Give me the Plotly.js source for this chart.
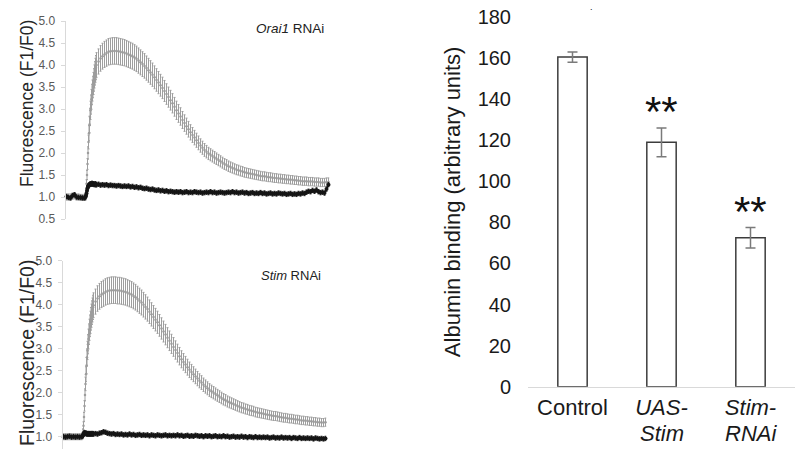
<!DOCTYPE html>
<html>
<head>
<meta charset="utf-8">
<script src="https://cdn.plot.ly/plotly-3.0.1.min.js"></script>
<style>html,body{margin:0;padding:0;background:#fff;}#chart{width:807px;height:449px;}</style>
</head>
<body>
<div id="chart"></div>
<script>
// time (frame index) shared by both calcium-imaging traces
const time = [0,2,4,6,8,10,12,14,16,18,
19,19.5,20,20.5,21,21.5,22,22.5,23,23.5,24,24.5,25,25.5,26,26.5,27,27.5,28,28.5,29,29.5,30,
32,34,36,38,40,42,44,46,48,50,
52,54,56,58,60,62,64,66,68,70,
72,74,76,78,80,82,84,86,88,90,
92,94,96,98,100,102,104,106,108,110,
112,114,116,118,120,122,124,126,128,130,
132,134,136,138,140,142,144,146,148,150,
152,154,156,158,160,162,164,166,168,170,
172,174,176,178,180,182,184,186,188,190,
192,194,196,198,200,202,204,206,208,210,
212,214,216,218,220,222,224,226,228,230,
232,234,236,238,240,242,244,246,248,250,
252,254,256,258,260,262];

// Orai1 RNAi panel: control (grey) and RNAi (black)
const orai1Control = [1.0,1.0,1.0,1.02,1.03,1.0,1.0,0.99,0.99,0.99,
1.0,1.1,1.3,1.5,1.75,2.0,2.25,2.45,2.65,2.82,2.97,3.1,3.22,3.33,3.42,3.5,3.58,3.66,3.74,3.81,3.88,3.94,4.0,
4.08,4.15,4.2,4.24,4.27,4.3,4.31,4.32,4.32,4.32,
4.31,4.3,4.29,4.28,4.26,4.24,4.22,4.2,4.17,4.14,
4.1,4.06,4.02,3.98,3.93,3.88,3.83,3.78,3.72,3.66,
3.6,3.54,3.48,3.41,3.34,3.27,3.2,3.13,3.05,2.97,
2.9,2.83,2.75,2.68,2.61,2.54,2.47,2.41,2.35,2.29,
2.23,2.17,2.12,2.07,2.03,1.99,1.96,1.93,1.9,1.87,
1.84,1.81,1.78,1.75,1.73,1.7,1.68,1.66,1.64,1.62,
1.61,1.59,1.58,1.56,1.55,1.54,1.53,1.52,1.51,1.5,
1.49,1.48,1.47,1.47,1.46,1.45,1.45,1.44,1.43,1.43,
1.42,1.42,1.41,1.41,1.4,1.4,1.39,1.39,1.38,1.38,
1.37,1.37,1.36,1.36,1.36,1.35,1.35,1.35,1.34,1.34,
1.34,1.33,1.33,1.33,1.34,1.34];

const orai1RNAi = [1.01,0.99,0.98,1.03,1.05,1.0,0.99,0.99,0.98,0.98,
1.0,1.03,1.08,1.14,1.2,1.24,1.26,1.27,1.28,1.29,1.3,1.29,1.3,1.31,1.3,1.29,1.3,1.29,1.28,1.29,1.3,1.28,1.28,
1.29,1.27,1.28,1.27,1.28,1.26,1.27,1.26,1.26,1.25,
1.26,1.25,1.24,1.25,1.24,1.25,1.23,1.24,1.22,1.23,
1.21,1.22,1.2,1.19,1.2,1.18,1.17,1.18,1.16,1.15,
1.16,1.14,1.15,1.13,1.14,1.12,1.13,1.12,1.11,1.12,
1.11,1.12,1.1,1.11,1.12,1.1,1.11,1.1,1.12,1.11,
1.1,1.11,1.09,1.1,1.11,1.1,1.12,1.1,1.11,1.09,
1.1,1.11,1.1,1.09,1.1,1.11,1.1,1.12,1.1,1.11,
1.09,1.1,1.11,1.09,1.1,1.08,1.09,1.1,1.08,1.09,
1.08,1.1,1.08,1.09,1.07,1.08,1.09,1.07,1.08,1.07,
1.09,1.08,1.07,1.08,1.06,1.07,1.08,1.06,1.07,1.06,
1.08,1.07,1.09,1.08,1.11,1.13,1.12,1.15,1.13,1.16,
1.12,1.1,1.11,1.09,1.18,1.28];

// Stim RNAi panel: control (grey) and RNAi (black)
const stimControl = [1.0,1.0,1.0,1.0,1.0,1.0,1.0,1.0,1.0,1.0,
1.02,1.1,1.25,1.45,1.7,1.95,2.2,2.42,2.62,2.8,2.96,3.1,3.22,3.33,3.43,3.52,3.6,3.68,3.75,3.82,3.88,3.94,3.99,
4.07,4.14,4.19,4.23,4.26,4.29,4.31,4.32,4.33,4.33,
4.33,4.32,4.32,4.31,4.3,4.29,4.27,4.25,4.23,4.2,
4.17,4.13,4.09,4.05,4.0,3.95,3.9,3.84,3.78,3.72,
3.66,3.6,3.53,3.46,3.39,3.32,3.25,3.18,3.11,3.04,
2.97,2.9,2.83,2.76,2.7,2.64,2.58,2.52,2.47,2.42,
2.37,2.32,2.27,2.23,2.18,2.14,2.1,2.06,2.03,2.0,
1.97,1.94,1.91,1.88,1.85,1.83,1.8,1.78,1.76,1.74,
1.72,1.7,1.68,1.66,1.65,1.63,1.62,1.6,1.59,1.58,
1.56,1.55,1.54,1.53,1.52,1.51,1.5,1.49,1.48,1.47,
1.47,1.46,1.45,1.44,1.43,1.43,1.42,1.41,1.41,1.4,
1.39,1.39,1.38,1.37,1.37,1.36,1.36,1.35,1.35,1.34,
1.34,1.33,1.33,1.32,1.32,1.33];

const stimRNAi = [1.0,0.99,1.0,1.01,0.99,1.0,0.99,1.0,0.99,1.0,
1.01,1.03,1.06,1.08,1.09,1.08,1.07,1.08,1.07,1.06,1.07,1.06,1.07,1.06,1.07,1.06,1.06,1.07,1.06,1.07,1.06,1.07,1.06,
1.07,1.06,1.08,1.09,1.11,1.1,1.08,1.07,1.06,1.07,
1.05,1.06,1.05,1.06,1.04,1.05,1.04,1.06,1.04,1.05,
1.03,1.04,1.05,1.03,1.04,1.03,1.04,1.02,1.04,1.03,
1.02,1.04,1.03,1.02,1.03,1.04,1.02,1.03,1.02,1.03,
1.02,1.04,1.02,1.03,1.01,1.02,1.03,1.01,1.02,1.01,
1.03,1.02,1.01,1.02,1.0,1.02,1.01,1.02,1.0,1.01,
1.02,1.0,1.01,1.0,1.02,1.0,1.01,0.99,1.0,1.01,
0.99,1.0,0.99,1.01,0.99,1.0,0.98,1.0,0.99,0.98,
1.0,0.98,0.99,0.98,0.99,0.98,0.99,0.97,0.98,0.99,
0.97,0.98,0.97,0.99,0.97,0.98,0.97,0.98,0.96,0.98,
0.97,0.96,0.98,0.96,0.97,0.96,0.97,0.96,0.97,0.95,
0.97,0.96,0.95,0.96,0.95,0.96];

const fluoTicks = [0.5,1.0,1.5,2.0,2.5,3.0,3.5,4.0,4.5,5.0];

// Albumin binding bar chart
const barCategories = ['Control','UAS-Stim','Stim-RNAi'];
const barTickText = ['Control','<i>UAS-</i>','<i>Stim-</i>'];
const barTickText2 = ['','<i>Stim</i>','<i>RNAi</i>'];
const barValues = [160.5, 119, 72.5];
const barErrors = [2.5, 7, 5];
const barMarks = ['', '**', '**'];
const barTicks = [0,20,40,60,80,100,120,140,160,180];

const greyStyle = {
  mode: 'markers', cliponaxis: false,
  marker: {size: 2.5, color: '#9c9c9c'},
  error_y: {type: 'percent', value: 7, color: '#9e9e9e', thickness: 1, width: 1}
};
const blackStyle = {
  mode: 'lines+markers', cliponaxis: false,
  line: {color: '#151515', width: 1.5},
  marker: {size: 4, color: '#151515'},
  error_y: {type: 'constant', value: 0.05, color: '#222', thickness: 1, width: 1}
};

const traces = [
  Object.assign({x: time, y: orai1Control, xaxis: 'x', yaxis: 'y', name: 'control'}, greyStyle),
  Object.assign({x: time, y: orai1RNAi, xaxis: 'x', yaxis: 'y', name: 'Orai1 RNAi'}, blackStyle),
  Object.assign({x: time, y: stimControl, xaxis: 'x2', yaxis: 'y2', name: 'control'}, greyStyle),
  Object.assign({x: time, y: stimRNAi, xaxis: 'x2', yaxis: 'y2', name: 'Stim RNAi'}, blackStyle),
  {
    type: 'bar', x: barCategories, y: barValues, xaxis: 'x3', yaxis: 'y3',
    marker: {color: '#ffffff', line: {color: '#3c3c3c', width: 1.5}},
    error_y: {type: 'data', array: barErrors, color: '#7a7a7a', thickness: 1.5, width: 5}
  }
];

const fluoAxis = (extra) => Object.assign({
  tickvals: fluoTicks, tickformat: '.1f',
  showline: true, linecolor: '#d9d9d9', linewidth: 1,
  ticks: 'outside', ticklen: 4, tickcolor: '#d9d9d9',
  tickfont: {size: 12, color: '#595959'},
  showgrid: false, zeroline: false, ticklabelstandoff: 3
}, extra);

const H = 449, W = 807;
const annotations = [
  {text: 'Fluorescence (F1/F0)', textangle: -90, xref: 'paper', yref: 'paper',
   x: 27/W, y: (H-104)/H, xanchor: 'center', yanchor: 'middle', showarrow: false,
   font: {size: 17.5, color: '#262626'}},
  {text: 'Fluorescence (F1/F0)', textangle: -90, xref: 'paper', yref: 'paper',
   x: 27/W, y: (H-353)/H, xanchor: 'center', yanchor: 'middle', showarrow: false,
   font: {size: 19.5, color: '#262626'}},
  {text: '<i>Orai1</i> RNAi', xref: 'paper', yref: 'paper', x: 326/W, y: (H-28)/H,
   xanchor: 'right', yanchor: 'middle', showarrow: false, font: {size: 13.5, color: '#222'}},
  {text: '<i>Stim</i> RNAi', xref: 'paper', yref: 'paper', x: 323/W, y: (H-275)/H,
   xanchor: 'right', yanchor: 'middle', showarrow: false, font: {size: 13, color: '#222'}},
  {text: '.', xref: 'paper', yref: 'paper', x: 591/W, y: 1,
   xanchor: 'center', yanchor: 'top', showarrow: false, font: {size: 9, color: '#111'}}
];
barCategories.forEach((c, i) => {
  if (barMarks[i]) {
    annotations.push({text: barMarks[i], xref: 'x3', yref: 'y3', x: c, y: barValues[i] + barErrors[i],
      xanchor: 'center', yanchor: 'bottom', yshift: -9, showarrow: false,
      font: {size: 42, color: '#111'}});
  }
  if (barTickText2[i]) {
    annotations.push({text: barTickText2[i], xref: 'x3', yref: 'paper', x: c, y: (H-433)/H,
      xanchor: 'center', yanchor: 'middle', showarrow: false,
      font: {size: 22, color: '#1a1a1a'}});
  }
});

const layout = {
  width: W, height: H, margin: {l: 0, r: 0, t: 0, b: 0},
  showlegend: false, paper_bgcolor: '#ffffff', plot_bgcolor: '#ffffff',
  font: {family: 'Liberation Sans, Arial, sans-serif', color: '#222'},
  bargap: 0.67,
  xaxis: {domain: [65.5/W, 329.5/W], range: [-1, 263], visible: false, anchor: 'y'},
  yaxis: fluoAxis({domain: [(H-219)/H, (H-21)/H], range: [0.5, 5.0], anchor: 'x'}),
  xaxis2: {domain: [62.5/W, 326.5/W], range: [-1, 263], visible: false, anchor: 'y2'},
  yaxis2: fluoAxis({domain: [0, (H-260.7)/H], range: [0.72, 5.0], anchor: 'x2'}),
  xaxis3: {domain: [528/W, 795/W], anchor: 'y3', showline: true, linecolor: '#d9d9d9', linewidth: 1.5,
    tickvals: barCategories, ticktext: barTickText, ticks: '', showgrid: false, zeroline: false,
    tickfont: {size: 22, color: '#1a1a1a'}},
  yaxis3: {domain: [(H-386.7)/H, (H-17)/H], range: [0, 180], tickvals: barTicks, anchor: 'x3',
    showline: false, showgrid: false, zeroline: false, ticks: '', ticklabelstandoff: 16,
    tickfont: {size: 20, color: '#1a1a1a'},
    title: {text: 'Albumin binding (arbitrary units)', font: {size: 22, color: '#1a1a1a'}, standoff: 10}},
  annotations: annotations
};

Plotly.newPlot('chart', traces, layout, {staticPlot: true, displayModeBar: false});
</script>
</body>
</html>
